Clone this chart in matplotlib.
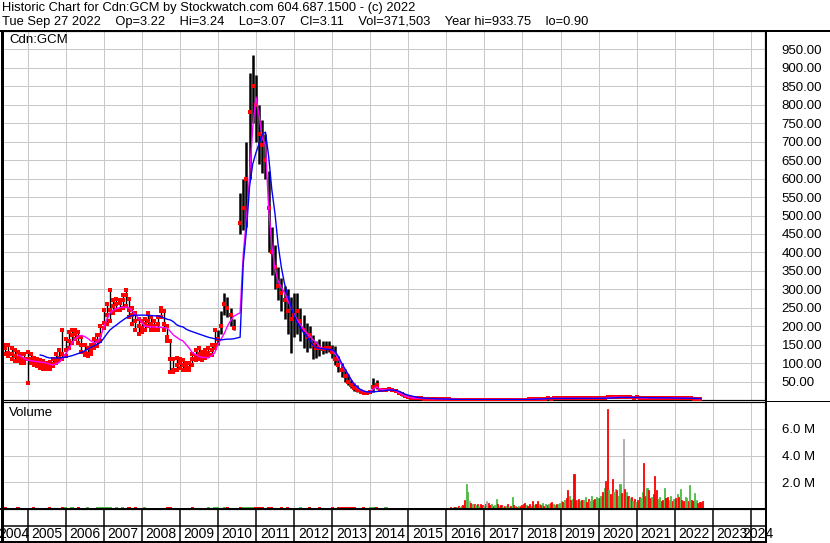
import numpy as np
import matplotlib.pyplot as plt
from matplotlib.lines import Line2D

plt.rcParams['font.family'] = ['Liberation Sans', 'DejaVu Sans']

nan = np.nan
W, H = 830, 543

# monthly bars, May 2004 .. Sep 2022
close = np.array([
    145, 140, 128, 125, 118, 115, 112, 110,                                # 2004
    110, 112, 105, 100, 98, 95, 90, 92, 98, 108, 115, 125,                  # 2005
    135, 160, 175, 180, 170, 150, 128, 125, 135, 150, 160, 175,             # 2006
    210, 230, 245, 255, 260, 262, 270, 285, 245, 230, 215, 200,             # 2007
    195, 205, 215, 205, 200, 205, 240, 205, 170, 110, 80, 95,               # 2008
    100, 95, 90, 88, 110, 120, 125, 118, 125, 128, 135, 150,                # 2009
    165, 200, 260, 250, 230, 195, nan, 480, 520, 600, 780, 850,             # 2010
    800, 720, 690, 650, 520, 400, 360, 310, 290, 270, 240, 220,             # 2011
    230, 240, 215, 190, 170, 175, 150, 140, 140, 138, 140, 142,             # 2012
    130, 110, 95, 80, 65, 50, 40, 33, 28, 22, 20, 20,                       # 2013
    22, 35, 40, 28, 27, 28, 30, 28, 24, 20, 15, 10,                         # 2014
    8, 6, 5, 5, 5, 4, 4, 3, 3, 3, 3, 3,                                     # 2015
    2, 1.5, 1.2, 1, 1, 1, 1, 1, 1, 1, 1, 1,                                 # 2016
    1.1, 1.0, 0.9, 1.0, 1.1, 1.0, 0.9, 1.0, 1.2, 1.1, 1.0, 1.0,             # 2017
    1.1, 1.3, 1.6, 2.0, 2.6, 3.0, 3.3, 3.8, 4.2, 4.0, 4.3, 4.4,             # 2018
    4.5, 4.2, 4.6, 4.3, 4.1, 4.4, 4.7, 4.5, 4.3, 4.6, 4.5, 4.8,             # 2019
    5.0, 4.6, 6.5, 7.5, 8.0, 7.2, 7.0, 6.8, 7.5, 6.9, 7.0, 6.5,             # 2020
    6.8, 6.0, 5.5, 5.2, 6.0, 6.3, 5.8, 5.5, 5.3, 5.6, 6.2, 5.9,             # 2021
    5.6, 5.4, 5.0, 5.5, 4.8, 4.3, 4.0, 3.6, 3.1,                            # 2022
])

# high / low for May 2004 .. Dec 2014
high = np.array([
    165, 150, 148, 140, 135, 130, 125, 125,
    130, 125, 115, 110, 108, 105, 100, 102, 112, 125, 135, 190,
    165, 185, 190, 190, 185, 170, 150, 140, 150, 165, 175, 200,
    245, 260, 298, 270, 275, 270, 285, 298, 275, 250, 235, 220,
    215, 220, 235, 225, 215, 225, 250, 240, 200, 160, 110, 115,
    110, 108, 100, 100, 125, 135, 140, 130, 135, 140, 150, 190,
    190, 240, 290, 280, 250, 220, nan, 560, 600, 700, 886, 934,
    880, 800, 760, 720, 620, 470, 420, 360, 330, 310, 300, 280,
    290, 290, 250, 230, 210, 200, 175, 160, 165, 160, 160, 160,
    150, 145, 120, 100, 85, 70, 55, 45, 40, 30, 25, 25,
    25, 60, 55, 32, 30, 31, 33, 31, 27, 23, 18, 13,
])
low = np.array([
    130, 125, 118, 112, 105, 105, 100, 100,
    46, 100, 95, 92, 88, 85, 84, 85, 92, 100, 108, 112,
    120, 140, 154, 165, 155, 130, 122, 118, 125, 140, 145, 160,
    195, 205, 215, 235, 245, 245, 250, 255, 225, 205, 190, 180,
    185, 190, 200, 190, 190, 190, 225, 190, 160, 76, 76, 82,
    88, 82, 81, 81, 95, 108, 112, 108, 115, 120, 122, 140,
    150, 180, 230, 225, 200, 190, nan, 450, 460, 470, 600, 750,
    700, 640, 615, 600, 400, 340, 300, 270, 240, 220, 180, 127,
    170, 180, 160, 140, 130, 140, 110, 115, 120, 125, 128, 130,
    115, 95, 75, 62, 50, 40, 32, 25, 22, 18, 17, 18,
    19, 22, 30, 25, 24, 25, 27, 25, 21, 17, 12, 8,
])

# short moving average (magenta)
ma_short = np.array([
    nan, nan, nan, nan, nan, 122, 118, 112,
    108, 107, 105, 104, 103, 102, 100, 97, 95, 98, 102, 112,
    125, 137, 155, 165, 173, 175, 172, 167, 160, 155, 158, 170,
    197, 218, 236, 243, 248, 250, 251, 252, 250, 241, 232, 222,
    210, 200, 199, 198, 198, 197, 197, 196, 195, 186, 176, 170,
    164, 160, 150, 140, 128, 123, 118, 116, 115, 114, 120, 128,
    150, 165, 180, 200, 215, 227, 232, 236, 395, 490, 610, 740,
    821, 770, 710, 690, 520, 420, 355, 322, 305, 290, 270, 252,
    232, 217, 205, 192, 182, 172, 163, 155, 145, 140, 138, 137,
    136, 125, 110, 95, 82, 70, 55, 43, 33, 27, 24, 22,
    22, 30, 35, 30, 28, 28, 29, 28, 25, 20, 15, 11,
    8, 6, 5, 5, 4.5, 4, 4, 3.5, 3, 3, 3, 3,
    2.5, 2, 1.5, 1.2, 1, 1, 1, 1, 1, 1, 1, 1,
    1, 1, 1, 1, 1, 1, 1, 1, 1, 1, 1, 1,
    1, 1.2, 1.5, 2, 2.5, 3, 3.5, 4, 4.3, 4.3, 4.2, 4.2,
    4.3, 4.3, 4.4, 4.4, 4.3, 4.3, 4.4, 4.5, 4.5, 4.5, 4.6, 4.6,
    4.5, 5, 5.5, 6, 7, 7.5, 7.5, 7, 7, 7, 6.8, 6.8,
    6.8, 6, 5.5, 5.5, 6, 6, 6, 5.8, 5.5, 5.5, 5.8, 6,
    5.8, 5.5, 5, 5.2, 5, 4.5, 4.2, 4, 3.5,
])

# long moving average (blue)
ma_long = np.array([
    nan, nan, nan, nan, nan, nan, nan, nan,
    nan, nan, nan, nan, 122, 120, 116, 114, 114, 114, 114, 115,
    116, 118, 120, 123, 126, 129, 133, 138, 143, 147, 151, 156,
    167, 179, 190, 197, 203, 210, 216, 222, 227, 229, 230, 230,
    230, 230, 229, 229, 228, 228, 226, 222, 219, 217, 212, 204,
    200, 198, 192, 188, 185, 182, 179, 176, 173, 170, 168, 166,
    164, 163, 164, 165, 165, 166, 168, 170, 370, 460, 580, 640,
    670, 695, 720, 726, 660, 570, 505, 420, 360, 315, 285, 255,
    230, 210, 195, 183, 172, 162, 148, 142, 140, 139, 138, 137,
    136, 130, 118, 100, 85, 70, 55, 42, 35, 28, 24, 22,
    22, 22, 23, 24, 25, 26, 27, 27, 26, 24, 20, 16,
    13, 11, 9, 7, 6, 5, 5, 4, 4, 3, 3, 3,
    2.5, 2, 1.8, 1.5, 1.3, 1.2, 1.1, 1, 1, 1, 1, 1,
    1, 1, 1, 1, 1, 1, 1, 1, 1, 1, 1, 1,
    1, 1, 1.2, 1.5, 2, 2.5, 3, 3.5, 4, 4.2, 4.3, 4.3,
    4.3, 4.3, 4.4, 4.4, 4.4, 4.4, 4.5, 4.5, 4.5, 4.5, 4.5, 4.5,
    4.5, 4.6, 4.7, 5, 5.5, 6, 6.5, 7, 7, 7, 7, 7,
    7, 7, 6.8, 6.5, 6.3, 6, 6, 6, 6, 5.8, 5.6, 5.5,
    5.4, 5.3, 5.2, 5, 5, 4.8, 4.6, 4.4, 4.2,
])

# monthly volume (millions) May 2004 .. Dec 2015, u=up d=down
vol_early = np.array([
    .10, .12, .09, .11, .10, .12, .10, .11,
    .11, .10, .12, .09, .10, .11, .10, .12, .10, .11, .09, .12,
    .12, .11, .13, .10, .12, .10, .11, .12, .10, .11, .12, .13,
    .14, .12, .13, .11, .12, .10, .12, .11, .13, .10, .12, .11,
    .10, .12, .11, .09, .10, .11, .08, .10, .12, .14, .10, .11,
    .10, .09, .11, .10, .12, .10, .09, .11, .10, .12, .11, .13,
    .12, .11, .13, .12, .10, .11, .00, .14, .12, .13, .15, .14,
    .13, .12, .14, .11, .13, .12, .11, .10, .12, .11, .12, .10,
    .11, .10, .12, .11, .10, .12, .11, .10, .12, .11, .10, .11,
    .12, .11, .13, .15, .14, .18, .13, .12, .11, .10, .12, .11,
    .12, .18, .14, .11, .10, .12, .11, .10, .09, .11, .10, .09,
    .08, .09, .10, .08, .09, .10, .08, .09, .10, .11, .09, .10,
])
dir_early = ("dddudduu" "ddduddudduud" "uuuuddduuuuu" "uuuuuuuudddd"
             "duuddudddddu" "udddduuduuuu" "uuuddddduuuu" "dddddddddddd"
             "ududddddduuu" "dddddddddddd" "uudddudddddd" "dddddddddddd")

# half-monthly volume (millions) Jan 2016 .. Sep 2022
vol_late = np.array([
    .08, .10, .12, .10, .15, .12, .15, .20, .18, .25, .30, .70,
    1.9, 1.3, .60, .45, .35, .40, .30, .35, .25, .40, .30, .25,          # 2016
    .35, .60, .45, .30, .40, .25, .30, .75, .35, .20, .30, .15,
    .25, .20, .35, .15, .20, .93, .30, .20, .15, .20, .25, .30,          # 2017
    .35, .45, .30, .25, .40, .20, .58, .30, .35, .63, .40, .30,
    .45, .25, .35, .30, .40, .45, .50, .35, .30, .40, .35, .45,          # 2018
    .60, .55, .65, .80, 1.43, 1.0, .70, .75, 2.6, .70, .65, .75,
    .60, .70, .65, .90, .55, .75, .60, 1.0, .70, .75, .90, .80,          # 2019
    .85, 1.0, 1.3, 1.56, 2.1, 7.5, 1.4, 1.1, 2.26, 1.3, 1.5, 1.4,
    1.0, 1.9, 1.2, 5.2, 1.5, 1.26, 1.0, .80, .90, .60, .75, .55,         # 2020
    .70, .90, .80, 1.26, 3.45, 1.0, 1.6, 1.4, .80, .90, 1.1, 2.5,
    1.4, .75, .90, .60, .70, 1.6, .80, .90, .70, 1.0, .60, .75,          # 2021
    .80, 1.1, .90, 1.5, .70, .60, .90, .80, .60, 1.76, .70, .60,
    1.2, .70, .45, .50, .55, .60,                                        # 2022
])
dir_late = ("duduududuudd" "uundudududdu"      # 2016
            "dnddudu" "udud" "u" "dudududududd"  # 2017
            "ddud" "dudu" "ddud" "udud" "uddu" "uduu"   # 2018
            "udud" "dudu" "ddud" "uduu" "dduu" "dduu"   # 2019
            "dudu" "ddud" "duud" "uudn" "dudu" "dudu"   # 2020
            "dduu" "ddud" "dudd" "duud" "dudd" "uudu"   # 2021
            "dudu" "dduu" "dudd" "uudddd")              # 2022

years = np.arange(2004, 2025)

month_t = 2004 + (4 + np.arange(len(close))) / 12
half_t = 2016 + (np.arange(len(vol_late)) + 0.5) / 24
n_hl = len(high)
n_early = 68  # through Dec 2009

fig = plt.figure(figsize=(W / 100, H / 100), dpi=100)
fig.patch.set_facecolor('white')


def fx(px):
    return px / W


def fy(py):
    return 1 - py / H


x0, x1 = 2004.33, 2024.37
grid_col = '#c8c8c8'
px = 0.72  # one pixel in points

ax_p = fig.add_axes([fx(2), fy(400), fx(765) - fx(2), fy(31) - fy(400)])
ax_v = fig.add_axes([fx(2), fy(509), fx(765) - fx(2), fy(402) - fy(509)])
ax_x = fig.add_axes([fx(2), fy(542), fx(765) - fx(2), fy(509) - fy(542)])

# price panel
ax_p.vlines(month_t[:n_early], low[:n_early], high[:n_early], color='black',
            lw=1.0, zorder=2)
ax_p.vlines(month_t[n_early:n_hl], low[n_early:], high[n_early:], color='black',
            lw=1.8, zorder=2)
ax_p.plot(month_t[128:], close[128:], color='red', lw=1.5, zorder=3)
ax_p.plot(month_t, close, 's', color='red', ms=2.4, mew=0, zorder=3)
ax_p.plot(month_t[:n_early], high[:n_early], 's', color='red', ms=2.2, mew=0, zorder=3)
ax_p.plot(month_t[:n_early], low[:n_early], 's', color='red', ms=2.2, mew=0, zorder=3)
ax_p.plot(month_t, ma_short, color='#ff00ff', lw=1.0, zorder=4)
ax_p.plot(month_t, ma_long, color='#0000ff', lw=1.0, zorder=5)
ax_p.set_xlim(x0, x1)
ax_p.set_ylim(0, 1000)
ax_p.set_yticks(np.arange(50, 951, 50))
ax_p.set_yticklabels(['%.2f' % v for v in np.arange(50, 951, 50)])
ax_p.set_xticks(years[1:])
ax_p.yaxis.tick_right()
ax_p.tick_params(axis='y', length=0, pad=12, labelsize=9.5, labelcolor='black')
ax_p.tick_params(axis='x', length=0, labelbottom=False)
ax_p.grid(True, color=grid_col, lw=px)
ax_p.set_axisbelow(True)
ax_p.text(7 / 763, 0.975, 'Cdn:GCM', transform=ax_p.transAxes, fontsize=9.5,
          va='center', ha='left')

# volume panel
col_map = {'u': '#4cbb44', 'd': '#ff0000', 'n': '#a8a8a8'}
early_cols = [col_map[c] for c in dir_early]
late_cols = [col_map[c] for c in dir_late]
ax_v.bar(month_t[:len(vol_early)], vol_early * 1e6, width=1 / 12,
         color=early_cols, lw=0, zorder=2)
ax_v.bar(half_t, vol_late * 1e6, width=0.7 / 24,
         color=late_cols, edgecolor=late_cols, lw=0.6, zorder=2)
ax_v.set_xlim(x0, x1)
ax_v.set_ylim(0, 8.0e6)
ax_v.set_yticks([2e6, 4e6, 6e6])
ax_v.set_yticklabels(['2.0 M', '4.0 M', '6.0 M'])
ax_v.set_xticks(years[1:])
ax_v.yaxis.tick_right()
ax_v.tick_params(axis='y', length=0, pad=12, labelsize=9.5, labelcolor='black')
ax_v.tick_params(axis='x', length=0, labelbottom=False)
ax_v.grid(True, color=grid_col, lw=px)
ax_v.set_axisbelow(True)
ax_v.text(7 / 763, 0.9, 'Volume', transform=ax_v.transAxes, fontsize=9.5,
          va='center', ha='left')

# year band
ax_x.set_xlim(x0, x1)
ax_x.set_ylim(0, 1)
ax_x.axis('off')
for yr in years[1:]:
    ax_x.axvline(yr, color='black', lw=px * 1.5)
ax_x.axhline(16 / 33, color='black', lw=px * 1.5)
for yr in years[1:-1]:
    ax_x.text(yr + 0.1, 8 / 33, str(yr), fontsize=10, va='center', ha='left')
fig.text(fx(-2), fy(534), str(years[0]), fontsize=10, va='center', ha='left')
fig.text(fx(773), fy(534), str(years[-1]), fontsize=10, va='center', ha='right')

for ax in (ax_p, ax_v):
    for s in ax.spines.values():
        s.set_color('black')
        s.set_linewidth(px * 1.2)

# frame lines
frame = [
    ((0, 830), (31, 31), 2.0),
    ((1.5, 1.5), (31, 543), 3.0),
    ((765.5, 765.5), (31, 543), 2.0),
    ((765, 830), (400.5, 400.5), 1.0),
    ((0, 766), (509, 509), 2.0),
    ((0, 766), (542, 542), 2.0),
]
for xs, ys, w in frame:
    fig.add_artist(Line2D([fx(v) for v in xs], [fy(v) for v in ys],
                          color='black', lw=w * px, transform=fig.transFigure))

fig.text(fx(2), fy(8), 'Historic Chart for Cdn:GCM by Stockwatch.com 604.687.1500 - (c) 2022',
         fontsize=9.3, va='center', ha='left')
fig.text(fx(2), fy(22), 'Tue Sep 27 2022    Op=3.22    Hi=3.24    Lo=3.07    Cl=3.11    '
         'Vol=371,503    Year hi=933.75    lo=0.90', fontsize=9.3, va='center', ha='left')

fig.savefig('out.png', dpi=100, facecolor='white')
